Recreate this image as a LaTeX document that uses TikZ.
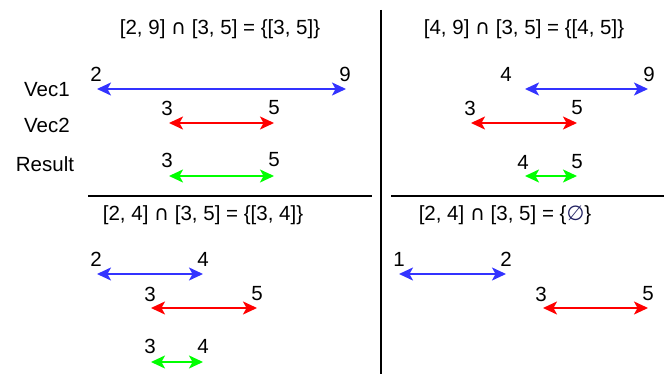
\documentclass[tikz,border=0pt]{standalone}
\usepackage{fontspec}
\setmainfont{Liberation Sans}
\newfontfamily\symfont{DejaVu Sans}
\usetikzlibrary{arrows.meta}
\definecolor{vecblue}{RGB}{51,51,255}
\definecolor{vecred}{RGB}{255,0,0}
\definecolor{vecgreen}{RGB}{0,255,0}
\definecolor{emptyblue}{RGB}{32,32,96}

\begin{document}
\begin{tikzpicture}[x=1pt, y=-1pt,
  font=\fontsize{20.5}{24}\selectfont,
  every node/.style={inner sep=0pt},
  span/.style={line width=1.8pt, {Stealth[length=14pt,width=13pt,inset=3.5pt]}-{Stealth[length=14pt,width=13pt,inset=3.5pt]}}]
  \useasboundingbox (0,0) rectangle (664,374);
  % frame lines
  \coordinate (vtop) at (381,10);
  \coordinate (vbot) at (381,374);
  \coordinate (hl1) at (88,196);
  \coordinate (hl2) at (372,196);
  \coordinate (hr1) at (391,196);
  \coordinate (hr2) at (664,196);
  \draw[line width=1.2pt] (vtop) -- (vbot);
  \draw[line width=1.2pt] (hl1) -- (hl2);
  \draw[line width=1.2pt] (hr1) -- (hr2);
  % row names
  \node (vec1) at (47,90) {Vec1};
  \node (vec2) at (47,125) {Vec2};
  \node (res) at (45,164) {Result};

  % top left
  \node (t1) at (220,29) {[2, 9] {\symfont ∩} [3, 5] = \{[3, 5]\}};
  \node (a1) at (96,74) {2};  \node (b1) at (345,74) {9};
  \node (a2) at (167,108) {3}; \node (b2) at (274,108) {5};
  \node (a3) at (167,160) {3}; \node (b3) at (274,160) {5};
  \coordinate (p1) at (97,89);  \coordinate (q1) at (346,89);
  \coordinate (p2) at (169,123); \coordinate (q2) at (274,123);
  \coordinate (p3) at (169,176); \coordinate (q3) at (274,176);
  \draw[span, vecblue] (p1) -- (q1);
  \draw[span, vecred] (p2) -- (q2);
  \draw[span, vecgreen] (p3) -- (q3);

  % top right
  \node (t2) at (524,29) {[4, 9] {\symfont ∩} [3, 5] = \{[4, 5]\}};
  \node (c1) at (506,74) {4};  \node (d1) at (649,74) {9};
  \node (c2) at (470,108) {3}; \node (d2) at (577,108) {5};
  \node (c3) at (523,162) {4}; \node (d3) at (577,162) {5};
  \coordinate (r1) at (525,89);  \coordinate (s1) at (648,89);
  \coordinate (r2) at (471,123); \coordinate (s2) at (577,123);
  \coordinate (r3) at (525,176); \coordinate (s3) at (577,176);
  \draw[span, vecblue] (r1) -- (s1);
  \draw[span, vecred] (r2) -- (s2);
  \draw[span, vecgreen] (r3) -- (s3);

  % bottom left
  \node (t3) at (203,215) {[2, 4] {\symfont ∩} [3, 5] = \{[3, 4]\}};
  \node (e1) at (96,259) {2};  \node (f1) at (203,259) {4};
  \node (e2) at (150,294) {3}; \node (f2) at (257,294) {5};
  \node (e3) at (150,346) {3}; \node (f3) at (203,346) {4};
  \coordinate (u1) at (97,274);  \coordinate (w1) at (203,274);
  \coordinate (u2) at (151,308); \coordinate (w2) at (257,308);
  \coordinate (u3) at (151,362); \coordinate (w3) at (203,362);
  \draw[span, vecblue] (u1) -- (w1);
  \draw[span, vecred] (u2) -- (w2);
  \draw[span, vecgreen] (u3) -- (w3);

  % bottom right
  \node (t4) at (505,215) {[2, 4] {\symfont ∩} [3, 5] = \{\textcolor{emptyblue}{\symfont ∅}\}};
  \node (g1) at (399,259) {1}; \node (h1) at (506,259) {2};
  \node (g2) at (541,294) {3}; \node (h2) at (648,294) {5};
  \coordinate (m1) at (399,274); \coordinate (n1) at (506,274);
  \coordinate (m2) at (543,308); \coordinate (n2) at (648,308);
  \draw[span, vecblue] (m1) -- (n1);
  \draw[span, vecred] (m2) -- (n2);
\end{tikzpicture}
\end{document}
